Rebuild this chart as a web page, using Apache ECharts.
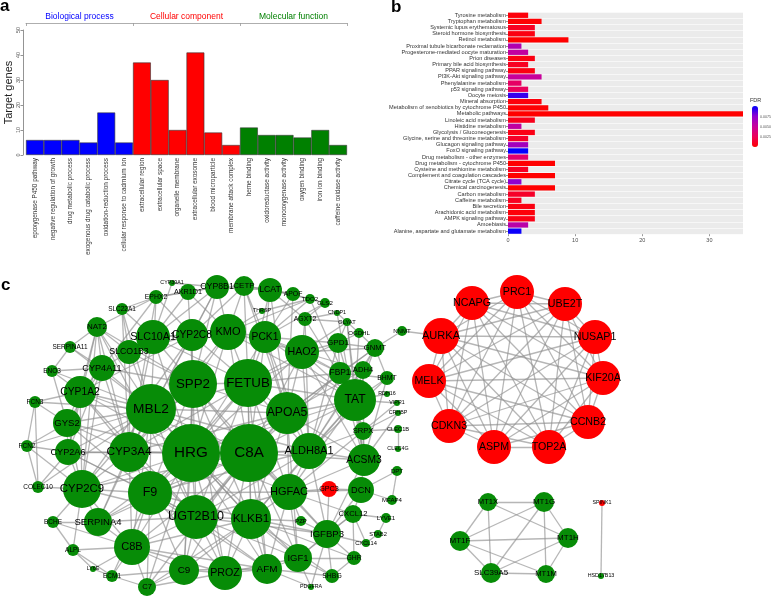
<!DOCTYPE html>
<html><head><meta charset="utf-8">
<script src="https://cdn.jsdelivr.net/npm/echarts@6/dist/echarts.min.js"></script>
<style>html,body{margin:0;padding:0;background:#fff}#c{width:776px;height:599px}</style>
</head><body><div id="c"></div>
<script>
const FONT = 'Liberation Sans, Arial, sans-serif';

// ---------- Panel a : GO terms ----------
const goGroupNames = ['Biological process', 'Cellular component', 'Molecular function'];
const goTerms = ['epoxygenase P450 pathway','negative regulation of growth','drug metabolic process','exogenous drug catabolic process','oxidation-reduction process','cellular response to cadmium ion','extracellular region','extracellular space','organelle membrane','extracellular exosome','blood microparticle','membrane attack complex','heme binding','oxidoreductase activity','monooxygenase activity','oxygen binding','iron ion binding','caffeine oxidase activity'];
const goCounts = [6,6,6,5,17,5,37,30,10,41,9,4,11,8,8,7,10,4];
const goGroup  = [0,0,0,0,0,0,1,1,1,1,1,1,2,2,2,2,2,2];

// ---------- Panel b : KEGG pathways ----------
const keggTerms = ['Tyrosine metabolism','Tryptophan metabolism','Systemic lupus erythematosus','Steroid hormone biosynthesis','Retinol metabolism','Proximal tubule bicarbonate reclamation','Progesterone-mediated oocyte maturation','Prion diseases','Primary bile acid biosynthesis','PPAR signaling pathway','PI3K-Akt signaling pathway','Phenylalanine metabolism','p53 signaling pathway','Oocyte meiosis','Mineral absorption','Metabolism of xenobiotics by cytochrome P450','Metabolic pathways','Linoleic acid metabolism','Histidine metabolism','Glycolysis / Gluconeogenesis','Glycine, serine and threonine metabolism','Glucagon signaling pathway','FoxO signaling pathway','Drug metabolism - other enzymes','Drug metabolism - cytochrome P450','Cysteine and methionine metabolism','Complement and coagulation cascades','Citrate cycle (TCA cycle)','Chemical carcinogenesis','Carbon metabolism','Caffeine metabolism','Bile secretion','Arachidonic acid metabolism','AMPK signaling pathway','Amoebiasis','Alanine, aspartate and glutamate metabolism'];
const keggCounts = [3,5,4,4,9,2,3,4,3,4,5,2,3,3,5,6,35,4,2,4,3,3,3,3,7,3,7,2,7,4,2,4,4,4,3,2];
const keggFDR = [0.0003,0.0001,0.0010,0.0005,0.0000,0.0062,0.0054,0.0005,0.0010,0.0005,0.0052,0.0030,0.0027,0.0093,0.0003,0.0001,0.0000,0.0008,0.0055,0.0006,0.0012,0.0068,0.0103,0.0034,0.0000,0.0010,0.0000,0.0077,0.0000,0.0012,0.0010,0.0005,0.0003,0.0006,0.0058,0.0101];
const keggXTicks = [0, 10, 20, 30];
const fdrTicks = [0.0025, 0.0050, 0.0075];

// ---------- Panel c : PPI network (node layout coordinates, radius, group) ----------
const netNodes = [
 ['HRG',191,453,29,'g'],['C8A',249,453,29,'g'],['FETUB',248,383,24,'g'],['SPP2',193,384,24,'g'],
 ['MBL2',151,409,25,'g'],['APOA5',287,413,21,'g'],['CYP3A4',129,452,20,'g'],['ALDH8A1',309,451,18,'g'],
 ['F9',150,493,22,'g'],['UGT2B10',196,517,22,'g'],['KLKB1',251,519,20,'g'],['HGFAC',289,492,18,'g'],
 ['CYP2C9',82,489,19,'g'],['TAT',355,400,21,'g'],['ACSM3',364,460,16,'g'],['C8B',132,547,18,'g'],
 ['C9',184,570,15,'g'],['PROZ',225,573,17,'g'],['AFM',267,569,15,'g'],['IGF1',298,558,14,'g'],
 ['IGFBP3',327,534,14,'g'],['SERPINA4',98,522,14,'g'],['CYP2A6',68,452,13,'g'],['GYS2',67,423,14,'g'],
 ['CYP1A2',80,392,16,'g'],['CYP4A11',102,368,13,'g'],['SLCO1B3',129,352,12,'g'],['SLC10A1',153,337,17,'g'],
 ['CYP2C8',192,335,16,'g'],['KMO',228,332,18,'g'],['PCK1',265,337,16,'g'],['HAO2',302,352,17,'g'],
 ['FBP1',340,373,11,'g'],['GPD1',338,343,10,'g'],['ADH4',363,370,9,'g'],['GNMT',375,348,9,'g'],
 ['BHMT',387,378,7,'g'],['SRPX',363,431,9,'g'],['DCN',361,490,13,'g'],['CXCL12',353,514,9,'g'],
 ['GHR',354,558,7,'g'],['SHBG',332,576,7,'g'],['PDGFRA',311,587,3,'g'],['PZP',301,521,5,'g'],
 ['C7',147,587,9,'g'],['ECM1',112,576,6,'g'],['LY6E',93,569,3,'g'],['ALPL',73,550,6,'g'],
 ['BCHE',53,522,6,'g'],['COLEC10',38,487,6,'g'],['FCN2',27,446,6,'g'],['FCN3',35,402,6,'g'],
 ['ENO3',52,371,6,'g'],['SERPINA11',70,347,6,'g'],['NAT2',97,327,10,'g'],['SLC22A1',122,309,6,'g'],
 ['EPHX2',156,297,7,'g'],['CYP39A1',172,283,3,'g'],['AKR1D1',188,292,8,'g'],['CYP8B1',217,287,12,'g'],
 ['CETP',244,286,10,'g'],['LCAT',270,290,12,'g'],['APOF',293,294,7,'g'],['TDO2',310,299,5,'g'],
 ['GLS2',325,303,5,'g'],['THRSP',262,311,3,'g'],['CNDP1',337,313,3,'g'],['AGXT2',305,319,7,'g'],
 ['GLYAT',347,322,4,'g'],['OGDHL',359,333,5,'g'],['NNMT',402,331,5,'g'],['RDH16',387,394,3,'g'],
 ['VIPR1',397,403,3,'g'],['CRHBP',398,413,3,'g'],['CLEC1B',398,429,4,'g'],['CLEC4G',398,449,3,'g'],
 ['DPT',397,471,5,'g'],['MFAP4',392,500,5,'g'],['LYVE1',386,518,5,'g'],['STAB2',378,534,4,'g'],
 ['CXCL14',366,543,4,'g'],['GPC3',329,489,8,'r'],
 ['PRC1',517,292,17,'r'],['NCAPG',472,303,17,'r'],['UBE2T',565,304,17,'r'],['AURKA',441,336,18,'r'],
 ['NUSAP1',595,337,17,'r'],['MELK',429,381,17,'r'],['KIF20A',603,378,17,'r'],['CDKN3',449,426,17,'r'],
 ['CCNB2',588,422,17,'r'],['ASPM',494,447,17,'r'],['TOP2A',549,447,17,'r'],
 ['MT1X',488,502,9,'g'],['MT1G',544,502,10,'g'],['MT1F',460,541,10,'g'],['MT1H',568,538,10,'g'],
 ['SLC39A5',491,573,10,'g'],['MT1M',546,574,9,'g'],
 ['SPINK1',602,503,3,'r'],['HSD17B13',601,576,3,'g']
];
const netEdges = {
 HRG:'C8A FETUB SPP2 MBL2 APOA5 F9 UGT2B10 KLKB1 CYP3A4 C8B C9 PROZ AFM HGFAC ALDH8A1 SERPINA4 CYP2C9 TAT KMO PCK1 CYP2C8 IGF1 C7 GYS2 CYP2A6 HAO2 SLC10A1 CYP1A2',
 C8A:'FETUB SPP2 MBL2 APOA5 F9 UGT2B10 KLKB1 CYP3A4 C8B C9 PROZ AFM HGFAC ALDH8A1 TAT ACSM3 IGFBP3 IGF1 CYP2C9 KMO PCK1 HAO2 CYP1A2 SERPINA4 C7 FBP1',
 FETUB:'SPP2 MBL2 APOA5 F9 KLKB1 HGFAC ALDH8A1 TAT KMO PCK1 CYP2C8 HAO2 UGT2B10 AFM CYP3A4 FBP1 SLC10A1 LCAT CETP GPD1',
 SPP2:'MBL2 APOA5 F9 UGT2B10 KLKB1 CYP3A4 HGFAC KMO CYP2C8 SLC10A1 SLCO1B3 CYP4A11 PROZ C9 CYP8B1 AKR1D1 NAT2',
 MBL2:'APOA5 F9 CYP3A4 CYP1A2 GYS2 CYP2A6 CYP4A11 SLCO1B3 NAT2 CYP2C9 C8B UGT2B10 KLKB1 FCN3 FCN2 COLEC10 SERPINA11 ENO3 EPHX2 SLC22A1 SERPINA4 ALDH8A1',
 APOA5:'F9 KLKB1 HGFAC ALDH8A1 TAT ACSM3 HAO2 FBP1 LCAT CETP APOF PCK1 IGF1 UGT2B10 GNMT ADH4 CYP3A4',
 F9:'UGT2B10 KLKB1 CYP3A4 CYP2C9 C8B C9 PROZ SERPINA4 CYP2A6 GYS2 AFM HGFAC C7 ECM1 ALDH8A1',
 UGT2B10:'KLKB1 CYP3A4 CYP2C9 C8B C9 PROZ AFM CYP2A6 CYP1A2 HGFAC ALDH8A1 IGF1 SERPINA4 NAT2 IGFBP3',
 KLKB1:'HGFAC C8B C9 PROZ AFM IGF1 IGFBP3 ALDH8A1 PZP SHBG C7 GHR TAT',
 CYP3A4:'CYP2C9 CYP1A2 CYP2A6 GYS2 CYP4A11 CYP2C8 SLCO1B3 SLC10A1 NAT2 SERPINA4 C8B SLC22A1 EPHX2 CYP8B1 KMO',
 ALDH8A1:'TAT ACSM3 HGFAC HAO2 FBP1 ADH4 GNMT BHMT SRPX PCK1 GPD1 AGXT2 IGFBP3',
 HGFAC:'TAT ACSM3 IGFBP3 IGF1 AFM DCN GPC3 PZP CXCL12 SRPX',
 TAT:'ACSM3 HAO2 FBP1 ADH4 GNMT BHMT SRPX PCK1 GPD1 TDO2 KMO AGXT2 GLYAT OGDHL RDH16 VIPR1',
 ACSM3:'SRPX DCN HAO2 GLYAT ADH4 FBP1 CNDP1 CRHBP IGFBP3 BHMT',
 CYP2C9:'CYP1A2 CYP2A6 GYS2 CYP2C8 SERPINA4 C8B BCHE COLEC10 FCN2 CYP4A11 NAT2 ALPL',
 C8B:'C9 C7 PROZ SERPINA4 ALPL BCHE ECM1 LY6E AFM',
 C9:'C7 PROZ AFM ECM1', PROZ:'AFM C7 IGF1', AFM:'IGF1 PDGFRA SHBG',
 IGF1:'IGFBP3 GHR SHBG PDGFRA CXCL12', IGFBP3:'GHR SHBG CXCL12 DCN GPC3 PDGFRA CXCL14',
 CXCL12:'DCN LYVE1 CXCL14 GHR', DCN:'GPC3 MFAP4 DPT', DPT:'MFAP4', LYVE1:'STAB2',
 CLEC1B:'CLEC4G SRPX', SRPX:'VIPR1 CRHBP',
 KMO:'PCK1 CYP2C8 HAO2 TDO2 SLC10A1 CETP CYP8B1 AKR1D1 THRSP',
 PCK1:'HAO2 FBP1 GPD1 LCAT GLS2 TDO2 APOF CETP', HAO2:'FBP1 GPD1 AGXT2 GNMT ADH4 GLYAT',
 FBP1:'GPD1 ADH4 GNMT BHMT', GPD1:'GNMT GLYAT OGDHL', GNMT:'BHMT NNMT ADH4 OGDHL', NNMT:'AURKA',
 SLC10A1:'SLCO1B3 CYP2C8 CYP8B1 AKR1D1 SLC22A1 CYP39A1', SLCO1B3:'CYP4A11 NAT2 SLC22A1 CYP2C8',
 CYP4A11:'CYP1A2 NAT2 ENO3 SERPINA11 EPHX2 GYS2 CYP2A6', CYP1A2:'GYS2 CYP2A6 NAT2 ENO3 FCN3 CYP2C8',
 GYS2:'CYP2A6 ENO3 FCN3 FCN2', CYP2A6:'NAT2 FCN2 COLEC10', FCN3:'FCN2 COLEC10', FCN2:'COLEC10',
 BCHE:'ALPL SERPINA4', ALPL:'LY6E ECM1', LY6E:'ECM1', ECM1:'C7',
 CYP8B1:'AKR1D1 CETP LCAT CYP39A1 CYP2C8 EPHX2', CETP:'LCAT APOF CYP2C8', LCAT:'APOF TDO2 AGXT2',
 APOF:'TDO2', TDO2:'GLS2', GLS2:'AGXT2', AGXT2:'GLYAT CNDP1', CNDP1:'GLYAT', GLYAT:'OGDHL', THRSP:'TDO2',
 EPHX2:'SLC22A1 NAT2 AKR1D1 CYP2C8', SERPINA11:'ENO3 NAT2', SHBG:'GHR', PZP:'IGFBP3', STAB2:'CXCL14',
 PRC1:'NCAPG UBE2T AURKA NUSAP1 MELK KIF20A CDKN3 CCNB2 ASPM TOP2A',
 NCAPG:'UBE2T AURKA NUSAP1 MELK KIF20A CDKN3 CCNB2 ASPM TOP2A',
 UBE2T:'AURKA NUSAP1 MELK KIF20A CDKN3 CCNB2 ASPM TOP2A',
 AURKA:'NUSAP1 MELK KIF20A CDKN3 CCNB2 ASPM TOP2A',
 NUSAP1:'MELK KIF20A CDKN3 CCNB2 ASPM TOP2A',
 MELK:'KIF20A CDKN3 CCNB2 ASPM TOP2A', KIF20A:'CDKN3 CCNB2 ASPM TOP2A',
 CDKN3:'CCNB2 ASPM TOP2A', CCNB2:'ASPM TOP2A', ASPM:'TOP2A',
 MT1X:'MT1G MT1F MT1H SLC39A5', MT1G:'MT1F MT1H MT1M SLC39A5', MT1F:'MT1H SLC39A5 MT1M',
 MT1H:'SLC39A5 MT1M', SLC39A5:'MT1M', SPINK1:'HSD17B13'
};

// ---------- build ----------
const groupColors = ['#0000FF', '#FF0000', '#008000'];
const nodeColors = { g: '#078C07', r: '#FF0000' };

const goData = goCounts.map((v, i) => ({ value: v, itemStyle: { color: groupColors[goGroup[i]] } }));
const keggData = keggTerms.map((t, i) => [keggCounts[i], t, keggFDR[i]]);
const fdrMax = 0.0103;

const graphNodes = netNodes.map(n => ({
  name: n[0], value: [n[1], n[2]], symbolSize: n[3] * 2,
  itemStyle: { color: nodeColors[n[4]] },
  label: { fontSize: 4.2 + 0.38 * n[3] }
}));
const graphLinks = [];
Object.keys(netEdges).forEach(src => {
  netEdges[src].split(' ').forEach(t => graphLinks.push({ source: src, target: t }));
});

const chart = echarts.init(document.getElementById('c'), null, { renderer: 'canvas' });
chart.setOption({
  animation: false,
  textStyle: { fontFamily: FONT },
  title: [
    { text: 'a', left: 0, top: -2, padding: 0, textStyle: { fontSize: 17, fontWeight: 'bold', color: '#000', fontFamily: FONT } },
    { text: 'b', left: 391, top: -1, padding: 0, textStyle: { fontSize: 17, fontWeight: 'bold', color: '#000', fontFamily: FONT } },
    { text: 'c', left: 1, top: 277, padding: 0, textStyle: { fontSize: 17, fontWeight: 'bold', color: '#000', fontFamily: FONT } },
    { text: 'FDR', left: 750, top: 97, padding: 0, textStyle: { fontSize: 5.5, fontWeight: 'normal', color: '#333', fontFamily: FONT } }
  ],
  grid: [
    { left: 26, top: 30, width: 321, height: 125 },
    { left: 508, top: 12.2, width: 235, height: 222, show: true, backgroundColor: '#EBEBEB', borderWidth: 0 },
    { left: 0, top: 0, width: 776, height: 599 },
    { left: 752, top: 106, width: 6, height: 41 }
  ],
  xAxis: [
    { gridIndex: 0, type: 'category', data: goTerms, boundaryGap: true,
      axisLine: { show: false }, axisTick: { show: false },
      axisLabel: { rotate: 90, fontSize: 6.4, color: '#333', margin: 3, interval: 0, fontFamily: FONT } },
    { gridIndex: 0, type: 'category', data: goGroupNames, position: 'top', offset: 7, boundaryGap: true,
      axisLine: { lineStyle: { color: '#999', width: 0.8 } },
      axisTick: { show: true, inside: true, length: 3, lineStyle: { color: '#999', width: 0.8 } },
      axisLabel: { fontSize: 8.5, margin: 2, interval: 0, fontFamily: FONT,
        color: (v, i) => groupColors[goGroupNames.indexOf(v)] } },
    { gridIndex: 1, type: 'value', min: 0, max: 35, interval: 5,
      axisLine: { show: false },
      axisTick: { show: true, length: 2, customValues: keggXTicks, lineStyle: { color: '#333', width: 0.5 } },
      axisLabel: { fontSize: 5.5, color: '#4D4D4D', margin: 3, fontFamily: FONT, customValues: keggXTicks },
      splitLine: { show: true, lineStyle: { color: '#FFFFFF', width: (v) => 0.8 } } },
    { gridIndex: 2, type: 'value', min: 0, max: 776, show: false },
    { gridIndex: 3, type: 'value', min: 0, max: 1, show: false }
  ],
  yAxis: [
    { gridIndex: 0, type: 'value', min: 0, max: 50, interval: 10, offset: 3,
      axisLine: { show: true, lineStyle: { color: '#666', width: 0.7 } },
      axisTick: { show: true, length: 2.5, lineStyle: { color: '#666', width: 0.7 } },
      splitLine: { show: false },
      axisLabel: { rotate: 90, fontSize: 5.5, color: '#555', margin: 1.5, fontFamily: FONT },
      name: 'Target genes', nameLocation: 'middle', nameGap: 8, nameRotate: 90,
      nameTextStyle: { fontSize: 11, color: '#222', fontFamily: FONT } },
    { gridIndex: 1, type: 'category', data: keggTerms, inverse: true,
      axisLine: { show: false },
      axisTick: { show: true, length: 2, alignWithLabel: true, lineStyle: { color: '#333', width: 0.5 } },
      axisLabel: { fontSize: 5.6, color: '#333', margin: 2, interval: 0, fontFamily: FONT },
      splitLine: { show: true, lineStyle: { color: '#FFFFFF', width: 0.6 } } },
    { gridIndex: 2, type: 'value', min: 0, max: 599, inverse: true, show: false },
    { gridIndex: 3, type: 'value', min: 0, max: fdrMax, position: 'right',
      axisLine: { show: false }, axisTick: { show: false }, splitLine: { show: false },
      axisLabel: { fontSize: 3.6, color: '#555', margin: 2, fontFamily: FONT,
        customValues: fdrTicks, formatter: v => v.toFixed(4) } }
  ],
  visualMap: [{
    type: 'continuous', seriesIndex: 1, dimension: 2, min: 0, max: fdrMax,
    left: 752, top: 106, itemWidth: 6, itemHeight: 41, padding: 0, calculable: false,
    inRange: { color: ['#FF0000', '#EC0058', '#C8009A', '#8F00CF', '#0000FF'] }
  }],
  series: [
    { type: 'bar', xAxisIndex: 0, yAxisIndex: 0, data: goData, barCategoryGap: '0%',
      itemStyle: { borderColor: '#333', borderWidth: 0.6 } },
    { type: 'bar', xAxisIndex: 2, yAxisIndex: 1, data: keggData, encode: { x: 0, y: 1 },
      barCategoryGap: '14%' },
    { type: 'graph', coordinateSystem: 'cartesian2d', xAxisIndex: 3, yAxisIndex: 2,
      data: graphNodes, links: graphLinks, z: 3,
      symbol: 'circle',
      lineStyle: { color: '#8f8f8f', width: 1.3, opacity: 0.65, curveness: 0 },
      label: { show: true, position: 'inside', color: '#000', fontFamily: FONT },
      emphasis: { disabled: true } }
  ]
});
</script></body></html>
